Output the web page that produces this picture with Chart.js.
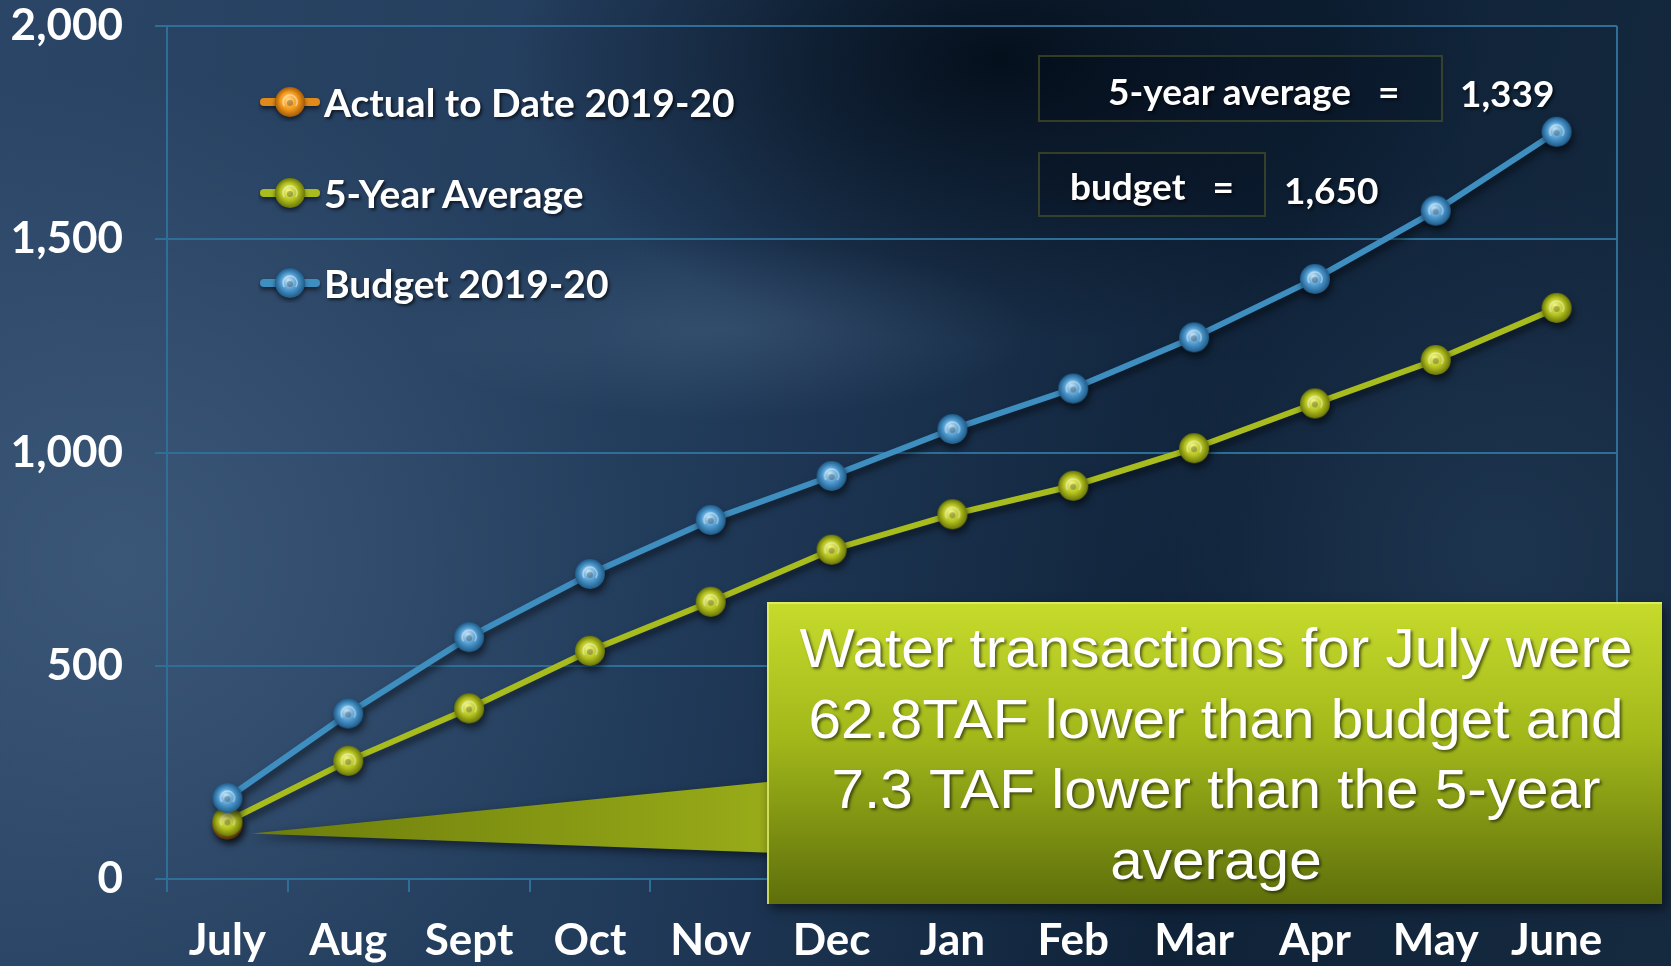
<!DOCTYPE html>
<html lang="en">
<head>
<meta charset="UTF-8">
<title>Water Transactions 2019-20</title>
<script src="https://cdn.jsdelivr.net/npm/chart.js"></script>
<style>
  html, body { margin: 0; padding: 0; width: 1671px; height: 966px; overflow: hidden; }
  body {
    position: relative;
    font-family: Lato, "Open Sans", sans-serif;
    background:
      radial-gradient(ellipse 420px 120px at 720px 330px, rgba(130,160,190,0.18), rgba(130,160,190,0) 75%),
      radial-gradient(ellipse 700px 650px at 120px 560px, rgba(60,88,120,0.95), rgba(60,88,120,0) 75%),
      radial-gradient(ellipse 650px 380px at 1000px 60px, rgba(4,14,26,0.95), rgba(4,14,26,0) 75%),
      radial-gradient(ellipse 500px 500px at 1500px 550px, rgba(32,56,84,0.8), rgba(32,56,84,0) 75%),
      linear-gradient(100deg, #2b4566 0%, #223c5c 40%, #0f2238 72%, #15293f 100%);
  }
  #wrap { position: absolute; left: 0; top: 0; width: 1671px; height: 966px; }
  .legend-item { position: absolute; left: 258px; height: 50px; display: flex; align-items: center;
    color: #fff; font-weight: 700; font-size: 39px; text-shadow: 2px 2px 3px rgba(0,0,0,0.6); }
  .legend-item canvas { margin-right: 2px; }
  .note-box { position: absolute; border: 2px solid rgba(88,98,40,0.55); background: rgba(0,8,18,0.18); }
  .note { position: absolute; color: #fff; font-weight: 700; font-size: 37px; white-space: pre;
    text-shadow: 2px 2px 3px rgba(0,0,0,0.6); line-height: 1; }
</style>
</head>
<body>
<div id="wrap"><canvas id="chart"></canvas></div>

<div class="note-box" style="left:1038px; top:55px; width:401px; height:63px;"></div>
<div class="note" style="left:1108px; top:72px;">5-year average   =</div>
<div class="note" style="left:1460px; top:74px;">1,339</div>
<div class="note-box" style="left:1038px; top:152px; width:224px; height:61px;"></div>
<div class="note" style="left:1070px; top:167px;">budget   =</div>
<div class="note" style="left:1284px; top:171px;">1,650</div>

<script>
  const months = ["July", "Aug", "Sept", "Oct", "Nov", "Dec", "Jan", "Feb", "Mar", "Apr", "May", "June"];
  const actual = [128, null, null, null, null, null, null, null, null, null, null, null];
  const fiveYear = [135, 277, 400, 535, 650, 772, 855, 922, 1010, 1115, 1217, 1339];
  const budget = [190, 388, 567, 715, 842, 945, 1055, 1150, 1270, 1407, 1567, 1752];
  const yTicks = [0, 500, 1000, 1500, 2000];

  const gridColor = "#2f6f97";

  // shaded ball used as point marker
  function makeBall(c1, c2, c3) {
    const s = 34, cv = document.createElement("canvas");
    cv.width = s; cv.height = s;
    const g = cv.getContext("2d");
    const grd = g.createRadialGradient(15, 14, 1, 17, 17, 15);
    grd.addColorStop(0, c1);
    grd.addColorStop(0.55, c2);
    grd.addColorStop(1, c3);
    g.fillStyle = grd;
    g.beginPath(); g.arc(17, 17, 15, 0, Math.PI * 2); g.fill();
    g.strokeStyle = "rgba(255,255,255,0.45)";
    g.lineWidth = 1.5;
    g.beginPath(); g.arc(17, 17, 7, Math.PI * 0.8, Math.PI * 2.2); g.stroke();
    g.fillStyle = "rgba(0,0,0,0.25)";
    g.beginPath(); g.arc(17, 18, 3, 0, Math.PI * 2); g.fill();
    return cv;
  }

  const orangeBall = makeBall("#ffd27a", "#f29a1c", "#a35a08");
  const greenBall = makeBall("#eef27a", "#b4c21e", "#6a760a");
  const blueBall = makeBall("#b6def7", "#4b96cc", "#1f5b88");

  const series = [
    { label: "Actual to Date 2019-20", data: actual, color: "#e08a1a", ball: orangeBall, order: 3 },
    { label: "5-Year Average", data: fiveYear, color: "#a9bc1e", ball: greenBall, order: 2 },
    { label: "Budget 2019-20", data: budget, color: "#3f8ec0", ball: blueBall, order: 1 }
  ];

  // shadows under lines and balls
  const shadowPlugin = {
    id: "shadow",
    beforeDatasetsDraw(chart) {
      const ctx = chart.ctx;
      ctx.save();
      ctx.shadowColor = "rgba(0,0,0,0.55)";
      ctx.shadowBlur = 7;
      ctx.shadowOffsetX = 2;
      ctx.shadowOffsetY = 5;
    },
    afterDatasetsDraw(chart) {
      chart.ctx.restore();
    }
  };

  const framePlugin = {
    id: "frame",
    beforeDatasetsDraw(chart) {
      const { ctx, chartArea } = chart;
      ctx.save();
      ctx.strokeStyle = gridColor;
      ctx.lineWidth = 2;
      ctx.beginPath();
      ctx.moveTo(chartArea.right, chartArea.top);
      ctx.lineTo(chartArea.right, chartArea.bottom);
      ctx.stroke();
      ctx.restore();
    }
  };

  const calloutPlugin = {
    id: "callout",
    afterDraw(chart) {
      const { ctx, scales } = chart;
      const tipX = scales.x.getPixelForValue(0) + 24;
      const tipY = scales.y.getPixelForValue(actual[0]) + 9;
      const bx = 767, by = 602, bw = 895, bh = 302;

      ctx.save();
      // pointer
      ctx.shadowColor = "rgba(0,0,0,0.5)";
      ctx.shadowBlur = 8;
      ctx.shadowOffsetY = 4;
      const pg = ctx.createLinearGradient(tipX, 0, bx, 0);
      pg.addColorStop(0, "#6c7c0c");
      pg.addColorStop(1, "#98ab18");
      ctx.fillStyle = pg;
      ctx.beginPath();
      ctx.moveTo(tipX, tipY);
      ctx.lineTo(bx + 10, 781);
      ctx.lineTo(bx + 10, 853);
      ctx.closePath();
      ctx.fill();

      // box
      const bg = ctx.createLinearGradient(0, by, 0, by + bh);
      bg.addColorStop(0, "#c7db2c");
      bg.addColorStop(0.45, "#a2b81a");
      bg.addColorStop(1, "#5e6f0b");
      ctx.fillStyle = bg;
      ctx.shadowBlur = 10;
      ctx.shadowOffsetX = 3;
      ctx.shadowOffsetY = 5;
      ctx.fillRect(bx, by, bw, bh);
      ctx.shadowColor = "transparent";
      ctx.strokeStyle = "rgba(225,240,110,0.8)";
      ctx.lineWidth = 2;
      ctx.beginPath();
      ctx.moveTo(bx + 1, by + bh);
      ctx.lineTo(bx + 1, by + 1);
      ctx.lineTo(bx + bw, by + 1);
      ctx.stroke();

      // text
      const lines = ["Water transactions for July were", "62.8TAF lower than budget and",
        "7.3 TAF lower than the 5-year", "average"];
      ctx.font = "56px 'Liberation Sans', Arial, sans-serif";
      const sx = 833 / ctx.measureText(lines[0]).width;
      const cx = 1216;
      ctx.textAlign = "center";
      ctx.textBaseline = "middle";
      ctx.shadowColor = "rgba(0,0,0,0.55)";
      ctx.shadowBlur = 3;
      ctx.shadowOffsetX = 2;
      ctx.shadowOffsetY = 2;
      ctx.fillStyle = "#ffffff";
      lines.forEach((t, i) => {
        ctx.save();
        ctx.translate(cx, 652 + i * 70.5);
        ctx.scale(sx, 1);
        ctx.fillText(t, 0, 0);
        ctx.restore();
      });
      ctx.restore();
    }
  };

  new Chart(document.getElementById("chart"), {
    type: "line",
    data: {
      labels: months,
      datasets: series.map(s => ({
        label: s.label,
        data: s.data,
        borderColor: s.color,
        backgroundColor: s.color,
        borderWidth: 6,
        pointStyle: s.ball,
        order: s.order,
        tension: 0,
        spanGaps: false
      }))
    },
    options: {
      responsive: true,
      maintainAspectRatio: false,
      animation: false,
      layout: { padding: { top: 26, right: 54, left: 0, bottom: 0 } },
      plugins: { legend: { display: false }, tooltip: { enabled: false } },
      scales: {
        x: {
          offset: true,
          grid: { display: true, drawOnChartArea: false, drawTicks: true, tickLength: 13, color: gridColor, lineWidth: 2, offset: true },
          border: { display: true, color: gridColor, width: 2 },
          ticks: { color: "#ffffff", font: { family: "Lato", weight: "bold", size: 44 }, padding: 22, maxRotation: 0, autoSkip: false },
          afterFit: s => { s.height = 87; s.paddingLeft = 0; s.paddingRight = 0; }
        },
        y: {
          min: 0, max: 2000,
          afterBuildTicks: s => { s.ticks = yTicks.map(v => ({ value: v })); },
          grid: { color: gridColor, lineWidth: 2, tickLength: 12, drawTicks: true },
          border: { display: true, color: gridColor, width: 2 },
          ticks: { color: "#ffffff", font: { family: "Lato", weight: "bold", size: 44 }, padding: 32,
            callback: v => v.toLocaleString("en-US") },
          afterFit: s => { s.width = 167; s.paddingTop = 0; s.paddingBottom = 0; }
        }
      }
    },
    plugins: [framePlugin, shadowPlugin, calloutPlugin]
  });

  // legend in the top-left corner of the plot
  const legendTops = [77, 168, 258];
  series.forEach((s, i) => {
    const item = document.createElement("div");
    item.className = "legend-item";
    item.style.top = legendTops[i] + "px";
    const mk = document.createElement("canvas");
    mk.width = 64; mk.height = 40;
    const g = mk.getContext("2d");
    g.shadowColor = "rgba(0,0,0,0.5)";
    g.shadowBlur = 4;
    g.shadowOffsetY = 3;
    g.strokeStyle = s.color;
    g.lineWidth = 8;
    g.lineCap = "round";
    g.beginPath(); g.moveTo(6, 20); g.lineTo(58, 20); g.stroke();
    g.drawImage(s.ball, 32 - 17, 20 - 17);
    item.appendChild(mk);
    item.appendChild(document.createTextNode(s.label));
    document.body.appendChild(item);
  });
</script>
</body>
</html>
